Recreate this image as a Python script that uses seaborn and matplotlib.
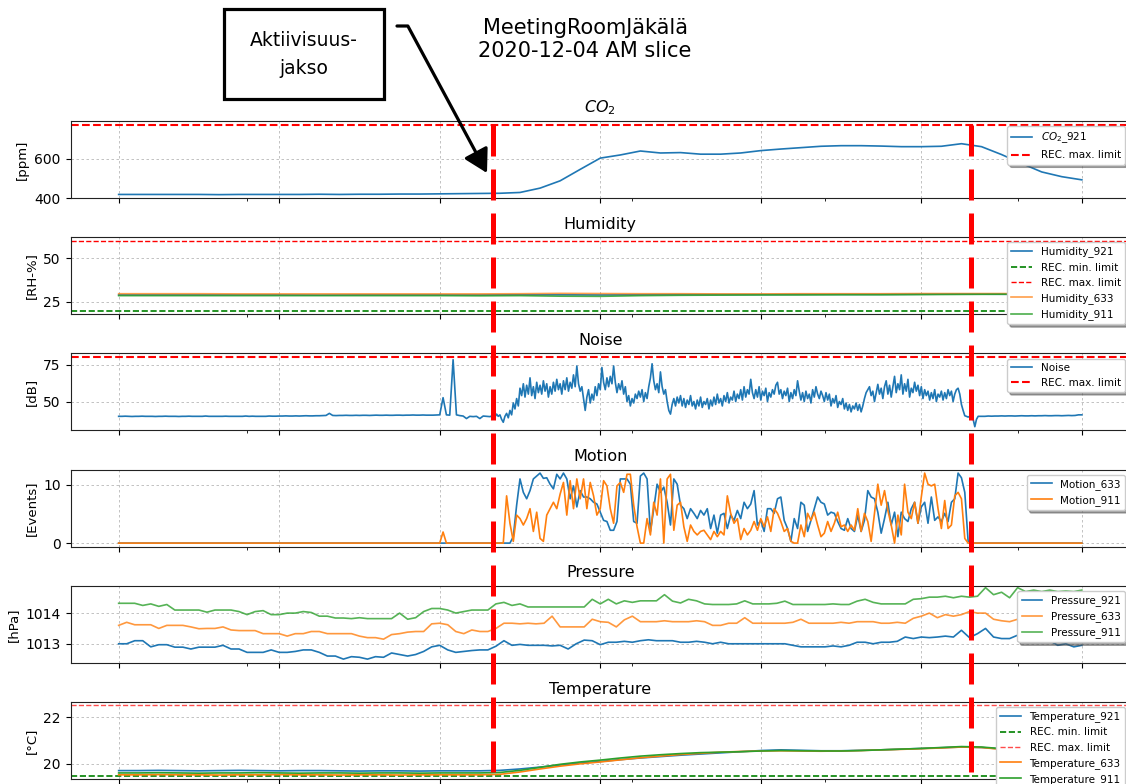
import numpy as np
import matplotlib
matplotlib.use("Agg")
import matplotlib.pyplot as plt
import seaborn as sns
import matplotlib.transforms as mtransforms
from matplotlib.lines import Line2D
from matplotlib.patches import Rectangle, FancyArrowPatch

# ---------------- data (hours since start of AM slice) ----------------
x_major_ticks = [0, 2, 4, 6, 8, 10, 12]
x_minor_ticks = [1.6, 4.0, 6.4, 8.8, 11.2]
activity_bounds = [4.67, 10.62]

co2_step = 0.25
co2_921 = [418, 418, 418, 418, 418, 417, 418, 418, 418, 418, 419, 418, 419, 419, 420, 420,
           421, 422, 423, 424, 428, 450, 487, 545, 602, 618, 638, 628, 630, 622, 622, 628,
           640, 648, 655, 662, 665, 665, 663, 660, 660, 662, 675, 660, 620, 575, 532, 508, 492]
co2_max = 770

hum_step = 0.5
hum_921 = [29.0, 29.0, 29.0, 29.0, 29.0, 28.9, 29.0, 29.0, 29.0, 29.0, 29.1, 29.1, 29.0,
           29.1, 29.2, 29.2, 29.2, 29.3, 29.3, 29.3, 29.4, 29.5, 29.4, 29.3, 29.3]
hum_633 = [29.7, 29.7, 29.7, 29.6, 29.6, 29.6, 29.6, 29.6, 29.6, 29.6, 29.7, 29.9, 29.8,
           29.7, 29.7, 29.6, 29.6, 29.7, 29.7, 29.7, 29.8, 29.8, 29.8, 29.7, 29.7]
hum_911 = [28.6, 28.6, 28.6, 28.6, 28.6, 28.6, 28.6, 28.6, 28.6, 28.5, 28.6, 28.3, 28.2,
           28.6, 28.8, 28.9, 29.0, 29.0, 29.1, 29.1, 29.2, 29.3, 29.4, 29.3, 29.3]
hum_min, hum_max = 20, 60

fine_step = 2.5 / 60     # 2.5 minute samples
dense_step = 1.25 / 60   # 1.25 minute samples

# noise: quiet part before, dense active part, quiet part after
noise_before = [40.0, 40.0, 40.1, 40.0, 39.9, 40.0, 40.0, 40.1, 40.0, 40.0,
                40.0, 39.9, 40.0, 40.0, 40.1, 40.0, 40.0, 40.0, 39.9, 40.0,
                40.0, 40.1, 40.0, 40.0, 40.0, 40.0, 40.2, 40.0, 40.0, 40.0,
                40.0, 40.0, 40.1, 40.0, 40.0, 40.0, 40.0, 40.0, 40.2, 40.0,
                40.1, 40.0, 40.0, 40.0, 40.0, 40.2, 40.1, 40.1, 40.2, 40.2,
                40.3, 40.2, 40.2, 40.3, 40.2, 40.3, 40.4, 40.3, 40.3, 40.4,
                40.4, 40.5, 40.6, 42.0, 40.6, 40.5, 40.6, 40.6, 40.7, 40.6,
                40.6, 40.7, 40.6, 40.7, 40.7, 40.6, 40.7, 40.8, 40.7, 40.7,
                40.8, 40.7, 40.7, 40.8, 40.8, 40.7, 40.8, 40.8, 40.9, 40.8,
                40.8, 40.9, 40.8, 40.8, 40.8, 40.9, 41.0, 52.6, 41.0, 40.8,
                78.3, 41.0, 40.5, 40.2, 38.5, 40.0, 39.8, 40.0, 38.5, 40.2, 40.0, 39.8]
noise_active = [
    40.5, 39.5, 41.5, 40, 41, 38, 36, 40, 42, 39, 44, 41, 49,
    45, 52, 47, 59, 54,
    62, 53, 61, 55, 66, 54, 60, 52, 63, 56, 61, 55, 64, 57, 62, 53, 60, 55, 63, 57,
    65, 58, 62, 55, 64, 58, 66, 57, 63, 59, 68, 60, 74,
    62, 57, 60, 52, 44, 53, 58, 49, 55, 51,
    60, 54, 62, 58, 73, 63,
    58, 66, 60, 67, 62, 74, 63, 56, 62, 58, 64, 55, 60, 50, 54, 47, 52, 49, 55,
    52, 57, 53, 58, 50, 56, 52, 60, 66, 75.5,
    64, 58, 62, 56, 70, 60, 55, 58, 50, 44,
    41.5, 48, 52, 47, 53,
    49, 54, 47, 52, 46, 51, 48, 54, 47, 50, 45, 51, 47, 53, 46, 50, 48, 52, 45, 51,
    47, 53, 48, 55, 49, 52, 47, 54, 50, 56, 49, 53, 51, 57, 50, 55, 52, 58, 51, 60,
    53, 58, 55, 65, 56, 52, 58, 53, 60, 51, 57, 54, 59, 50, 56, 53, 58, 55, 61, 63,
    55, 58, 52, 57, 54, 59, 50, 56, 52, 58,
    54, 64, 57, 51, 56, 50, 57, 52, 55, 49, 58, 53, 60, 55, 52, 57, 54, 50, 56, 51,
    55, 47, 52, 49, 54, 46, 50, 48, 52, 45,
    49, 44, 48, 43, 47, 45, 49, 44, 48, 43, 47, 52, 56, 58, 60,
    54, 57, 50, 56, 61.6, 55, 59, 52, 60, 64, 55, 61, 53, 60, 67, 56, 62, 58, 68, 55,
    62, 57, 65, 53, 59, 56, 63, 57, 61, 54,
    60, 52, 58, 54, 57, 51, 56, 52, 58, 50, 55, 53, 57, 51, 56, 52, 58, 54, 57, 50,
    55, 58, 59, 55,
    48, 44, 40.4, 40, 39.5, 40, 40.2, 38, 33, 38, 40, 40, 40]
noise_after = [40.0, 40.2, 40.1, 40.2, 40.2, 40.3, 40.2, 40.3, 40.3, 40.2,
               40.3, 40.4, 40.3, 40.3, 40.4, 40.3, 40.4, 40.4, 40.5, 40.4,
               40.4, 40.5, 40.5, 40.4, 40.5, 40.6, 40.5, 40.6, 41.0, 41.0]
noise_max = 80

motion_633 = [
    0, 0, 0, 0, 0, 0, 0, 0, 0, 0, 0, 0, 0, 0, 0, 0, 0, 0, 0, 0,
    0, 0, 0, 0, 0, 0, 0, 0, 0, 0, 0, 0, 0, 0, 0, 0, 0, 0, 0, 0,
    0, 0, 0, 0, 0, 0, 0, 0, 0, 0, 0, 0, 0, 0, 0, 0, 0, 0, 0, 0,
    0, 0, 0, 0, 0, 0, 0, 0, 0, 0, 0, 0, 0, 0, 0, 0, 0, 0, 0, 0,
    0, 0, 0, 0, 0, 0, 0, 0, 0, 0, 0, 0, 0, 0, 0, 0, 0, 0, 0, 0,
    0, 0, 0, 0, 0, 0, 0, 0,
    0, 0, 0, 0, 0, 0, 0, 0, 0, 0, 1.1, 6.5, 11.0, 8.7, 7.6, 9.0, 11.0, 11.5, 12.0, 11.1,
    11.2, 10.1, 9.3, 11.8, 11.0, 12.0, 11.0, 7.6, 9.8, 6.2, 9.0, 7.9, 7.9, 7.6, 7.0, 6.7,
    5.3, 3.9, 3.7, 2.2, 2.2, 3.7, 11.0, 11.0, 11.0, 10.1, 3.7, 3.4, 11.5, 12.0, 11.0, 2.0,
    5.9, 10.1, 8.7, 9.6, 7.0, 3.1, 11.0, 10.1, 6.5, 5.9, 4.2, 5.9, 5.1, 4.2, 5.6, 4.8,
    5.9, 2.5, 4.8, 1.7, 4.8, 5.1, 2.5, 4.8, 3.9, 5.6, 4.2, 7.0, 5.9, 6.7, 9.0, 3.1,
    3.9, 2.0, 5.9, 5.9, 5.1, 7.6, 7.9, 3.9, 2.5, 0.3, 4.2, 2.5, 7.0, 6.5, 2.0, 3.9,
    5.9, 7.9, 7.0, 6.7, 4.8, 5.3, 5.1, 3.7, 2.5, 2.2, 4.2, 2.5, 2.0, 4.8, 2.0, 3.9,
    9.0, 7.9, 7.6, 5.3, 1.7, 4.2, 7.0, 3.1, 5.3, 1.1, 5.3, 4.2, 3.7, 5.9, 7.0, 3.4,
    6.2, 7.0, 3.4, 7.9, 3.9, 4.5, 3.7, 5.1, 3.7, 7.0, 7.6, 12.0, 11.2, 8.7, 0.3, 0,
    0, 0, 0, 0, 0, 0, 0, 0, 0, 0, 0, 0, 0, 0, 0, 0, 0, 0, 0, 0,
    0, 0, 0, 0, 0, 0, 0, 0, 0, 0, 0, 0, 0]
motion_911 = [
    0, 0, 0, 0, 0, 0, 0, 0, 0, 0, 0, 0, 0, 0, 0, 0, 0, 0, 0, 0,
    0, 0, 0, 0, 0, 0, 0, 0, 0, 0, 0, 0, 0, 0, 0, 0, 0, 0, 0, 0,
    0, 0, 0, 0, 0, 0, 0, 0, 0, 0, 0, 0, 0, 0, 0, 0, 0, 0, 0, 0,
    0, 0, 0, 0, 0, 0, 0, 0, 0, 0, 0, 0, 0, 0, 0, 0, 0, 0, 0, 0,
    0, 0, 0, 0, 0, 0, 0, 0, 0, 0, 0, 0, 0, 0, 0, 0, 0, 1.9, 0, 0,
    0, 0, 0, 0, 0, 0, 0, 0,
    0, 0, 0, 0, 0, 0, 0, 0, 8.1, 3.4, 0.3, 4.8, 4.2, 3.1, 4.2, 5.9, 2.0, 5.3, 0.8, 0.3,
    4.8, 5.9, 7.0, 5.9, 8.4, 10.4, 4.8, 10.7, 5.9, 11.0, 7.6, 11.0, 5.9, 10.4, 8.1, 4.8,
    5.9, 10.7, 9.8, 5.9, 3.4, 9.8, 10.4, 8.7, 11.8, 11.8, 6.5, 2.8, 0, 0, 4.2, 1.4,
    7.0, 4.8, 11.0, 0, 11.0, 11.8, 2.2, 6.5, 7.0, 2.8, 0.3, 3.1, 2.0, 1.4, 2.0, 2.2,
    1.4, 0.6, 2.0, 1.1, 2.0, 1.4, 8.1, 5.1, 3.4, 4.2, 0.6, 2.5, 1.4, 2.2, 3.7, 2.2,
    4.2, 2.8, 4.5, 2.0, 5.9, 5.1, 3.7, 2.0, 2.5, 0.3, 0, 0, 3.1, 1.1, 5.1, 3.9,
    5.3, 3.1, 1.1, 1.7, 3.7, 2.0, 3.4, 5.3, 2.8, 3.1, 2.0, 3.1, 2.2, 5.9, 2.0, 5.1,
    3.7, 0.3, 5.1, 10.1, 6.5, 9.0, 5.6, 3.1, 0, 4.8, 1.4, 10.1, 5.3, 4.2, 7.0, 3.4,
    7.9, 12.0, 10.1, 9.8, 10.1, 5.9, 2.5, 7.3, 2.5, 3.1, 8.1, 8.7, 7.6, 0.8, 0, 0,
    0, 0, 0, 0, 0, 0, 0, 0, 0, 0, 0, 0, 0, 0, 0, 0, 0, 0, 0, 0,
    0, 0, 0, 0, 0, 0, 0, 0, 0, 0, 0, 0, 0]

pres_step = 0.1
pres_921 = [1013.0, 1013.0, 1013.1, 1013.1, 1012.9, 1012.97, 1012.97, 1012.89, 1012.89, 1012.83,
            1012.89, 1012.89, 1012.89, 1012.95, 1012.83, 1012.83, 1012.72, 1012.72, 1012.72, 1012.8,
            1012.72, 1012.72, 1012.75, 1012.8, 1012.8, 1012.72, 1012.6, 1012.6, 1012.5, 1012.58,
            1012.56, 1012.5, 1012.58, 1012.56, 1012.7, 1012.65, 1012.6, 1012.65, 1012.75, 1012.9,
            1012.95, 1012.8, 1012.72, 1012.75, 1012.78, 1012.8, 1012.8, 1012.92, 1013.1, 1012.95,
            1012.98, 1012.95, 1012.95, 1012.95, 1012.93, 1012.95, 1012.83, 1013.0, 1013.12, 1013.1,
            1012.97, 1013.05, 1013.05, 1013.08, 1013.05, 1013.1, 1013.13, 1013.1, 1013.1, 1013.1,
            1013.05, 1013.05, 1013.08, 1013.05, 1013.0, 1013.05, 1013.0, 1013.0, 1013.0, 1013.0,
            1013.0, 1013.0, 1013.0, 1013.0, 1012.95, 1012.9, 1012.9, 1012.9, 1012.9, 1012.93,
            1012.9, 1012.95, 1013.05, 1013.05, 1013.0, 1013.05, 1013.05, 1013.08, 1013.22, 1013.17,
            1013.22, 1013.2, 1013.22, 1013.25, 1013.22, 1013.44, 1013.2, 1013.33, 1013.5, 1013.22,
            1013.17, 1013.17, 1013.28, 1013.15, 1013.1, 1013.05, 1013.1, 1012.95, 1013.0, 1012.9,
            1012.95]
pres_633 = [1013.6, 1013.7, 1013.62, 1013.62, 1013.62, 1013.5, 1013.6, 1013.6, 1013.6, 1013.55,
            1013.49, 1013.5, 1013.5, 1013.55, 1013.45, 1013.43, 1013.43, 1013.43, 1013.33, 1013.33,
            1013.33, 1013.25, 1013.33, 1013.33, 1013.4, 1013.4, 1013.33, 1013.33, 1013.33, 1013.33,
            1013.25, 1013.2, 1013.2, 1013.15, 1013.3, 1013.33, 1013.38, 1013.4, 1013.4, 1013.65,
            1013.67, 1013.62, 1013.4, 1013.33, 1013.45, 1013.4, 1013.4, 1013.5, 1013.67, 1013.67,
            1013.65, 1013.67, 1013.65, 1013.67, 1013.9, 1013.55, 1013.55, 1013.55, 1013.55, 1013.8,
            1013.72, 1013.7, 1013.55, 1013.78, 1013.9, 1013.72, 1013.72, 1013.72, 1013.75, 1013.72,
            1013.72, 1013.72, 1013.75, 1013.72, 1013.6, 1013.6, 1013.67, 1013.67, 1013.85, 1013.67,
            1013.67, 1013.67, 1013.67, 1013.67, 1013.7, 1013.8, 1013.67, 1013.67, 1013.67, 1013.67,
            1013.7, 1013.67, 1013.72, 1013.72, 1013.72, 1013.67, 1013.67, 1013.7, 1013.67, 1013.83,
            1013.9, 1014.0, 1013.85, 1013.95, 1013.9, 1013.95, 1014.05, 1014.0, 1014.0, 1013.8,
            1013.75, 1013.72, 1013.8, 1013.85, 1013.8, 1013.8, 1013.85, 1013.8, 1013.85, 1013.8,
            1013.8]
pres_911 = [1014.32, 1014.32, 1014.32, 1014.25, 1014.3, 1014.22, 1014.28, 1014.1, 1014.1, 1014.1,
            1014.1, 1014.03, 1014.1, 1014.1, 1014.1, 1014.05, 1013.95, 1014.05, 1014.08, 1013.95,
            1013.95, 1014.0, 1014.0, 1014.05, 1014.02, 1013.9, 1013.9, 1013.84, 1013.84, 1013.82,
            1013.85, 1013.82, 1013.82, 1013.82, 1013.82, 1014.0, 1013.8, 1013.85, 1014.05, 1014.15,
            1014.15, 1014.1, 1014.0, 1014.05, 1014.1, 1014.1, 1014.1, 1014.3, 1014.35, 1014.25,
            1014.3, 1014.2, 1014.2, 1014.2, 1014.2, 1014.2, 1014.2, 1014.2, 1014.2, 1014.45,
            1014.3, 1014.45, 1014.3, 1014.4, 1014.35, 1014.4, 1014.4, 1014.4, 1014.6, 1014.39,
            1014.33, 1014.45, 1014.4, 1014.3, 1014.28, 1014.28, 1014.28, 1014.3, 1014.4, 1014.3,
            1014.3, 1014.3, 1014.32, 1014.39, 1014.28, 1014.28, 1014.28, 1014.28, 1014.28, 1014.3,
            1014.28, 1014.28, 1014.39, 1014.45, 1014.35, 1014.3, 1014.3, 1014.3, 1014.3, 1014.45,
            1014.47, 1014.52, 1014.52, 1014.55, 1014.5, 1014.55, 1014.52, 1014.55, 1014.83, 1014.6,
            1014.68, 1014.5, 1014.83, 1014.7, 1014.75, 1014.7, 1014.75, 1014.7, 1014.72, 1014.7,
            1014.75]

temp_step = 0.25
temp_921 = [19.71, 19.71, 19.72, 19.71, 19.70, 19.71, 19.72, 19.71, 19.70, 19.71, 19.71, 19.70,
            19.69, 19.70, 19.70, 19.69, 19.70, 19.70, 19.70, 19.72, 19.78, 19.86, 19.95, 20.03,
            20.10, 20.18, 20.25, 20.31, 20.37, 20.42, 20.47, 20.52, 20.57, 20.60, 20.58, 20.56,
            20.56, 20.58, 20.60, 20.63, 20.66, 20.69, 20.72, 20.70, 20.64, 20.58, 20.54, 20.50, 20.48]
temp_633 = [19.53, 19.53, 19.54, 19.53, 19.53, 19.52, 19.53, 19.53, 19.54, 19.53, 19.53, 19.52,
            19.53, 19.53, 19.52, 19.53, 19.53, 19.53, 19.53, 19.55, 19.65, 19.78, 19.90, 20.00,
            20.08, 20.17, 20.26, 20.33, 20.40, 20.45, 20.50, 20.53, 20.55, 20.56, 20.55, 20.54,
            20.55, 20.57, 20.60, 20.62, 20.65, 20.68, 20.72, 20.70, 20.62, 20.57, 20.52, 20.50, 20.48]
temp_911 = [19.61, 19.61, 19.62, 19.61, 19.60, 19.61, 19.61, 19.62, 19.61, 19.60, 19.61, 19.61,
            19.60, 19.61, 19.61, 19.60, 19.61, 19.61, 19.61, 19.63, 19.72, 19.85, 19.98, 20.08,
            20.16, 20.25, 20.33, 20.39, 20.44, 20.48, 20.50, 20.52, 20.55, 20.57, 20.56, 20.55,
            20.55, 20.57, 20.60, 20.63, 20.66, 20.70, 20.74, 20.72, 20.65, 20.60, 20.55, 20.52, 20.50]
temp_min, temp_max = 19.5, 22.5


def hours(values, step, start=0.0):
    return start + np.arange(len(values)) * step


# ---------------- figure ----------------
W, H = 1126, 784
fig = plt.figure(figsize=(W / 100, H / 100), dpi=100)
fig.patch.set_facecolor("white")

BLUE, ORANGE, GREEN = "#1f77b4", "#ff7f0e", "#2ca02c"
LW = 1.2

axes = []
for i in range(6):
    top = 121 + 116.2 * i
    ax = fig.add_axes([70.5 / W, 1 - (top + 77) / H, (1130 - 70.5) / W, 77 / H])
    axes.append(ax)

leg_kw = dict(loc="upper right", fontsize=7.5, shadow=True, framealpha=1.0)

# CO2
ax = axes[0]
sns.lineplot(x=hours(co2_921, co2_step), y=co2_921, ax=ax, color=BLUE, lw=LW, label="$CO_2$_921")
ax.axhline(co2_max, color="red", ls="--", lw=1.5, label="REC. max. limit")
ax.set_ylim(400, 790)
ax.set_yticks([400, 600])
ax.set_ylabel("[ppm]")
ax.set_title("$CO_2$", fontsize=11.5)
ax.legend(**leg_kw)

# Humidity
ax = axes[1]
th = hours(hum_921, hum_step)
sns.lineplot(x=th, y=hum_921, ax=ax, color=BLUE, lw=LW, label="Humidity_921")
ax.axhline(hum_min, color="green", ls="--", lw=1.2, label="REC. min. limit")
ax.axhline(hum_max, color="red", ls="--", lw=1.0, label="REC. max. limit")
sns.lineplot(x=th, y=hum_633, ax=ax, color=ORANGE, lw=LW, alpha=0.75, label="Humidity_633")
sns.lineplot(x=th, y=hum_911, ax=ax, color=GREEN, lw=LW, alpha=0.85, label="Humidity_911")
ax.set_ylim(18, 62)
ax.set_yticks([25, 50])
ax.set_ylabel("[RH-%]")
ax.set_title("Humidity", fontsize=11.5)
ax.legend(**leg_kw)

# Noise
ax = axes[2]
n_before_t = hours(noise_before, fine_step)
n_active_t = hours(noise_active, dense_step, start=len(noise_before) * fine_step)
n_after_t = hours(noise_after, fine_step,
                  start=n_active_t[-1] + fine_step)
noise_t = np.concatenate([n_before_t, n_active_t, n_after_t])
noise_v = np.concatenate([noise_before, noise_active, noise_after])
sns.lineplot(x=noise_t, y=noise_v, ax=ax, color=BLUE, lw=LW, label="Noise", sort=False)
ax.axhline(noise_max, color="red", ls="--", lw=1.5, label="REC. max. limit")
ax.set_ylim(30.5, 82.5)
ax.set_yticks([50, 75])
ax.set_ylabel("[dB]")
ax.set_title("Noise", fontsize=11.5)
ax.legend(**leg_kw)

# Motion
ax = axes[3]
tm = hours(motion_633, fine_step)
sns.lineplot(x=tm, y=motion_633, ax=ax, color=BLUE, lw=LW, label="Motion_633")
sns.lineplot(x=tm, y=motion_911, ax=ax, color=ORANGE, lw=LW, label="Motion_911")
ax.set_ylim(-0.6, 12.6)
ax.set_yticks([0, 10])
ax.set_ylabel("[Events]")
ax.set_title("Motion", fontsize=11.5)
ax.legend(**leg_kw)

# Pressure
ax = axes[4]
tp = hours(pres_921, pres_step)
sns.lineplot(x=tp, y=pres_921, ax=ax, color=BLUE, lw=LW, label="Pressure_921")
sns.lineplot(x=tp, y=pres_633, ax=ax, color=ORANGE, lw=LW, alpha=0.8, label="Pressure_633")
sns.lineplot(x=tp, y=pres_911, ax=ax, color=GREEN, lw=LW, alpha=0.8, label="Pressure_911")
ax.set_ylim(1012.38, 1014.89)
ax.set_yticks([1013, 1014])
ax.set_ylabel("[hPa]")
ax.set_title("Pressure", fontsize=11.5)
ax.legend(**leg_kw)

# Temperature
ax = axes[5]
tt = hours(temp_921, temp_step)
sns.lineplot(x=tt, y=temp_921, ax=ax, color=BLUE, lw=LW, label="Temperature_921")
ax.axhline(temp_min, color="green", ls="--", lw=1.2, label="REC. min. limit")
ax.axhline(temp_max, color="red", ls="--", lw=1.0, alpha=0.7, label="REC. max. limit")
sns.lineplot(x=tt, y=temp_633, ax=ax, color=ORANGE, lw=LW, label="Temperature_633")
sns.lineplot(x=tt, y=temp_911, ax=ax, color=GREEN, lw=LW, label="Temperature_911")
ax.set_ylim(19.35, 22.65)
ax.set_yticks([20, 22])
ax.set_ylabel("[°C]")
ax.set_title("Temperature", fontsize=11.5)
ax.legend(**leg_kw)

for ax in axes:
    ax.set_xlim(-0.6, 12.6)
    ax.set_xticks(x_major_ticks)
    ax.set_xticks(x_minor_ticks, minor=True)
    ax.tick_params(axis="x", which="both", labelbottom=False)
    ax.tick_params(axis="y", labelsize=10)
    ax.yaxis.label.set_size(9.5)
    ax.set_xlabel("")
    ax.grid(True, which="major", color="#888888", ls=(0, (3, 3)), lw=0.6, alpha=0.6)
    for s in ax.spines.values():
        s.set_color("#222222")

# activity period markers spanning all panels
trans = mtransforms.blended_transform_factory(axes[0].transData, fig.transFigure)
for xv in activity_bounds:
    fig.add_artist(Line2D([xv, xv], [1 - 125 / H, 0], transform=trans, color="red",
                          lw=3.6, linestyle=(0, (6.2, 2.6)), zorder=5))

# suptitle
fig.text(585 / W, 1 - 18 / H, "MeetingRoomJäkälä\n2020-12-04 AM slice", ha="center", va="top",
         fontsize=15)

# annotation box + arrow
fig.add_artist(Rectangle((224 / W, 1 - 99 / H), 160 / W, 90 / H, transform=fig.transFigure,
                         fc="white", ec="black", lw=2.3, zorder=6))
fig.text(304 / W, 1 - 55 / H, "Aktiivisuus-\njakso", ha="center", va="center", fontsize=13.5,
         linespacing=1.6, zorder=7)
arrow = FancyArrowPatch(posA=(397 / W, 1 - 26 / H), posB=(487 / W, 1 - 173 / H),
                        transform=fig.transFigure,
                        arrowstyle="-|>,head_length=0.7,head_width=0.4", mutation_scale=20,
                        connectionstyle="angle,angleA=0,angleB=-61.7,rad=0",
                        lw=2.3, color="black", shrinkA=0, shrinkB=0, zorder=7)
fig.add_artist(arrow)

fig.savefig("out.png", dpi=100)
